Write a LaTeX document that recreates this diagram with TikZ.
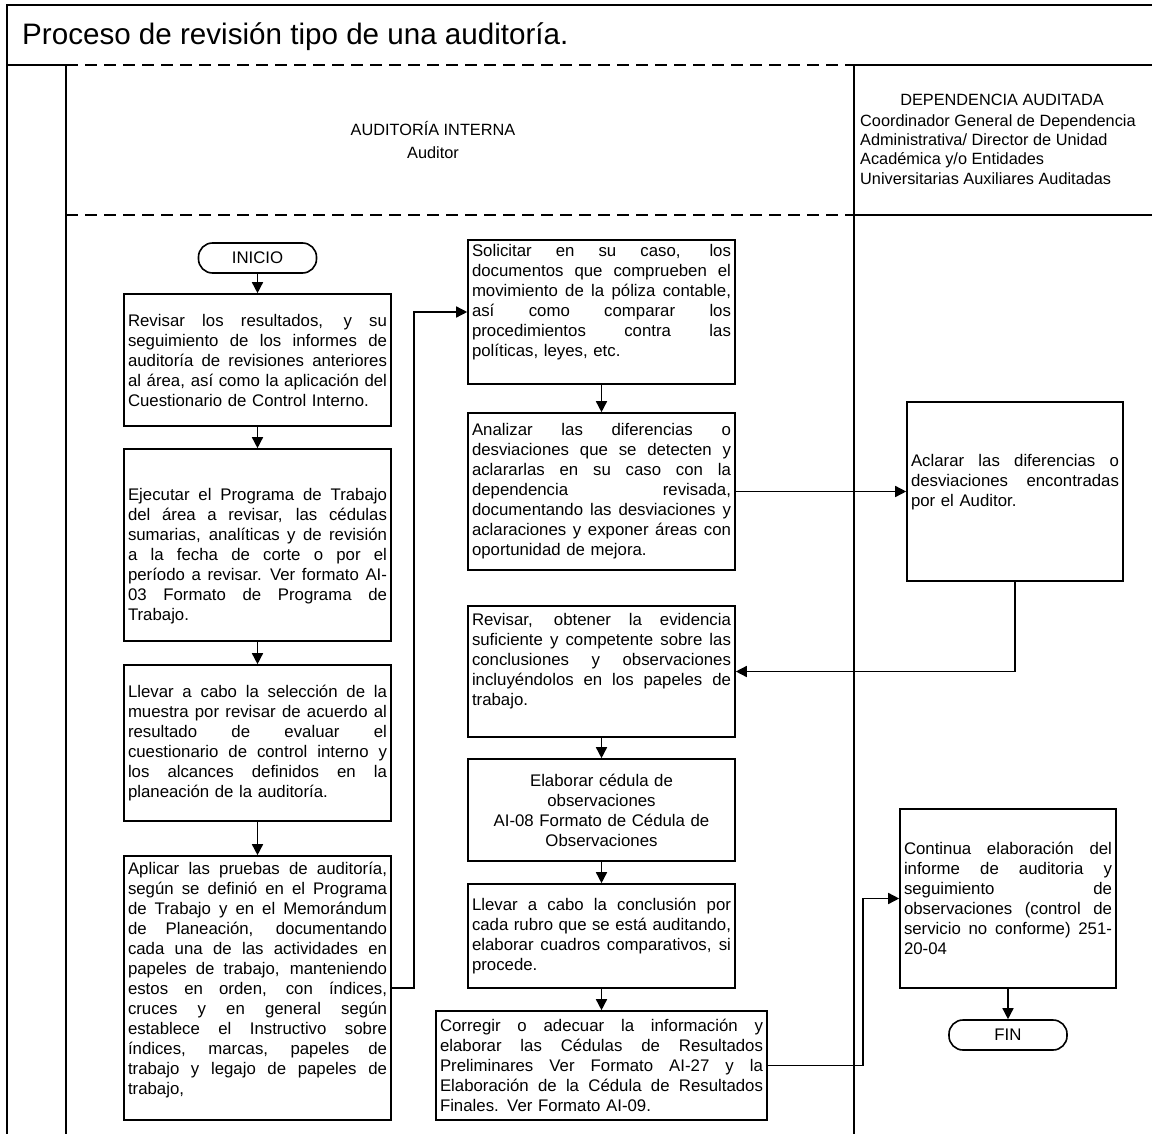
\documentclass[tikz,border=0pt]{standalone}
\usepackage{fontspec}
\setmainfont{Liberation Sans}
\usetikzlibrary{arrows.meta}

% one fully justified line of a box text, as wide as \jlw
\newlength\jlw
\newcommand\jl[1]{\leavevmode\hbox to \jlw{\spaceskip=0.28em plus 1fil\relax #1}\\}
\newcommand\bodyfont{\fontsize{16.8}{20}\selectfont}
\newcommand\headfont{\fontsize{16.3}{20}\selectfont}

\tikzset{
  lane/.style={line width=1.5pt, line cap=rect},
  lanedash/.style={line width=1.5pt, dash pattern=on 12pt off 7pt},
  procbox/.style={draw, line width=1.6pt, rectangle, inner sep=0pt},
  txt/.style={text width=#1, align=left, inner sep=0pt, font=\bodyfont,
    execute at begin node={\setlength{\jlw}{#1}}},
  ctxt/.style={text width=#1, align=center, inner sep=0pt, font=\bodyfont},
  terminal/.style={draw, line width=1.6pt, rectangle, rounded corners=14pt,
    minimum width=118pt, minimum height=30pt, inner sep=0pt, font=\bodyfont},
  flow/.style={line width=1.5pt, -{Triangle[length=11pt,width=11pt]}},
  headtxt/.style={inner sep=0pt, font=\headfont},
}

\begin{document}
\begin{tikzpicture}[x=1pt,y=-1pt]
\useasboundingbox (0,0) rectangle (1152,1134);

% ---- frame and swimlanes ----
\draw[lane] (7,1134) -- (7,5) -- (1152,5);
\draw[lane] (7,65) -- (66,65);
\draw[lanedash] (66,65) -- (854,65);
\draw[lane] (854,65) -- (1152,65);
\draw[lanedash] (66,215) -- (854,215);
\draw[lane] (854,215) -- (1152,215);
\draw[lane] (66,65) -- (66,1134);
\draw[lane] (854,65) -- (854,1134);

% ---- headings ----
\node[inner sep=0pt, anchor=base west, font=\fontsize{29.6}{34}\selectfont] (title) at (22,45)
  {Proceso de revisión tipo de una auditoría.};
\node[headtxt, anchor=base] (laneA) at (433,136) {AUDITORÍA INTERNA};
\node[headtxt, anchor=base] (laneAsub) at (433,159) {Auditor};
\node[headtxt, anchor=base] (laneB) at (1002,106) {DEPENDENCIA AUDITADA};
\node[headtxt, anchor=base west] (laneB1) at (860,127) {Coordinador General de Dependencia};
\node[headtxt, anchor=base west] (laneB2) at (860,146) {Administrativa/ Director de Unidad};
\node[headtxt, anchor=base west] (laneB3) at (860,165) {Académica y/o Entidades};
\node[headtxt, anchor=base west] (laneB4) at (860,185) {Universitarias Auxiliares Auditadas};

% ---- auditor, first column ----
\node[terminal] (ini) at (257.5,258) {INICIO};

\node[procbox, minimum width=267pt, minimum height=132pt] (b1) at (257.5,360) {};
\node[txt=259pt] (b1t) at (b1.center) {%
\jl{Revisar los resultados, y su}
\jl{seguimiento de los informes de}
\jl{auditoría de revisiones anteriores}
\jl{al área, así como la aplicación del}
Cuestionario de Control Interno.};

\node[procbox, minimum width=267pt, minimum height=192pt] (b2) at (257.5,545) {};
\node[txt=259pt] (b2t) at ([yshift=-11pt]b2.center) {%
\jl{Ejecutar el Programa de Trabajo}
\jl{del área a revisar, las cédulas}
\jl{sumarias, analíticas y de revisión}
\jl{a la fecha de corte o por el}
\jl{período a revisar. Ver formato AI-}
\jl{03 Formato de Programa de}
Trabajo.};

\node[procbox, minimum width=267pt, minimum height=156pt] (b3) at (257.5,743) {};
\node[txt=259pt] (b3t) at (b3.center) {%
\jl{Llevar a cabo la selección de la}
\jl{muestra por revisar de acuerdo al}
\jl{resultado de evaluar el}
\jl{cuestionario de control interno y}
\jl{los alcances definidos en la}
planeación de la auditoría.};

\node[procbox, minimum width=267pt, minimum height=264pt] (b4) at (257.5,988) {};
\node[txt=259pt] (b4t) at ([yshift=8pt]b4.center) {%
\jl{Aplicar las pruebas de auditoría,}
\jl{según se definió en el Programa}
\jl{de Trabajo y en el Memorándum}
\jl{de Planeación, documentando}
\jl{cada una de las actividades en}
\jl{papeles de trabajo, manteniendo}
\jl{estos en orden, con índices,}
\jl{cruces y en general según}
\jl{establece el Instructivo sobre}
\jl{índices, marcas, papeles de}
\jl{trabajo y legajo de papeles de}
trabajo,};

% ---- auditor, second column ----
\node[procbox, minimum width=267pt, minimum height=144pt] (c1) at (601.5,312) {};
\node[txt=259pt] (c1t) at ([yshift=10pt]c1.center) {%
\jl{Solicitar en su caso, los}
\jl{documentos que comprueben el}
\jl{movimiento de la póliza contable,}
\jl{así como comparar los}
\jl{procedimientos contra las}
políticas, leyes, etc.};

\node[procbox, minimum width=267pt, minimum height=157pt] (c2) at (601.5,491.5) {};
\node[txt=259pt] (c2t) at (c2.center) {%
\jl{Analizar las diferencias o}
\jl{desviaciones que se detecten y}
\jl{aclararlas en su caso con la}
\jl{dependencia revisada,}
\jl{documentando las desviaciones y}
\jl{aclaraciones y exponer áreas con}
oportunidad de mejora.};

\node[procbox, minimum width=267pt, minimum height=131pt] (c3) at (601.5,671.5) {};
\node[txt=259pt] (c3t) at ([yshift=10pt]c3.center) {%
\jl{Revisar, obtener la evidencia}
\jl{suficiente y competente sobre las}
\jl{conclusiones y observaciones}
\jl{incluyéndolos en los papeles de}
trabajo.};

\node[procbox, minimum width=267pt, minimum height=102pt] (c4) at (601.5,810) {};
\node[ctxt=259pt] (c4t) at (c4.center) {%
Elaborar cédula de\\
observaciones\\
AI-08 Formato de Cédula de\\
Observaciones};

\node[procbox, minimum width=267pt, minimum height=104pt] (c5) at (601.5,936) {};
\node[txt=259pt] (c5t) at (c5.center) {%
\jl{Llevar a cabo la conclusión por}
\jl{cada rubro que se está auditando,}
\jl{elaborar cuadros comparativos, si}
procede.};

\node[procbox, minimum width=331pt, minimum height=109pt] (c6) at (601.5,1065.5) {};
\node[txt=323pt] (c6t) at (c6.center) {%
\jl{Corregir o adecuar la información y}
\jl{elaborar las Cédulas de Resultados}
\jl{Preliminares Ver Formato AI-27 y la}
\jl{Elaboración de la Cédula de Resultados}
Finales. Ver Formato AI-09.};

% ---- audited unit ----
\node[procbox, minimum width=216pt, minimum height=179pt] (d1) at (1015,491.5) {};
\node[txt=208pt] (d1t) at ([yshift=9pt]d1.center) {%
\jl{Aclarar las diferencias o}
\jl{desviaciones encontradas}
por el Auditor.};

\node[procbox, minimum width=216pt, minimum height=179pt] (d2) at (1008,898.5) {};
\node[txt=208pt] (d2t) at (d2.center) {%
\jl{Continua elaboración del}
\jl{informe de auditoria y}
\jl{seguimiento de}
\jl{observaciones (control de}
\jl{servicio no conforme) 251-}
20-04};

\node[terminal] (fin) at (1008,1035) {FIN};

% ---- connectors ----
\draw[flow] (ini) -- (b1);
\draw[flow] (b1) -- (b2);
\draw[flow] (b2) -- (b3);
\draw[flow] (b3) -- (b4);
\draw[flow] (b4.east) -- ++(22,0) |- (c1.west);
\draw[flow] (c1) -- (c2);
\draw[flow] (c2.east) -- (d1.west);
\draw[flow] (d1.south) |- (c3.east);
\draw[flow] (c3) -- (c4);
\draw[flow] (c4) -- (c5);
\draw[flow] (c5) -- (c6);
\draw[flow] (c6.east) -- ++(95,0) |- (d2.west);
\draw[flow] (d2) -- (fin);
\end{tikzpicture}
\end{document}
